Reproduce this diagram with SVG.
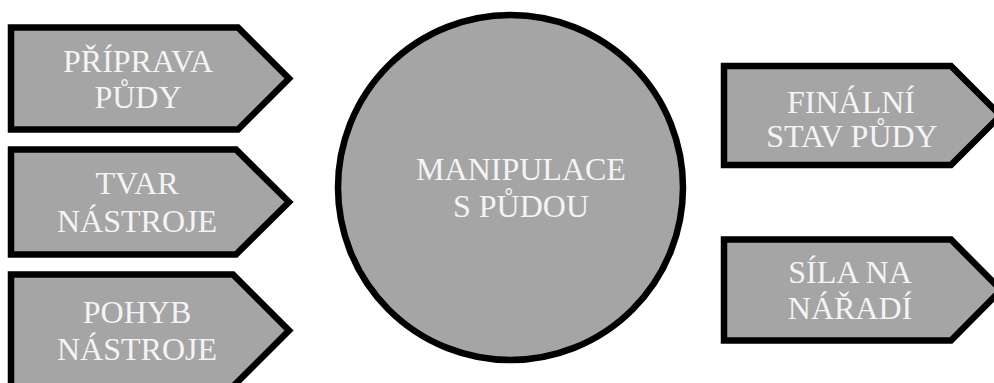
<svg xmlns="http://www.w3.org/2000/svg" width="994" height="383" viewBox="0 0 994 383">
<style>
.shape{fill:#a5a5a5;stroke:#000;stroke-width:6.5;stroke-linejoin:miter}
.lbl{fill:#f4f4f4;font-family:"Liberation Serif","Times New Roman",serif;font-size:32px;text-anchor:middle}
</style>
<rect width="994" height="383" fill="#fff"/>
<g id="connectors"></g>
<g id="node-priprava">
<path class="shape" d="M11,27.5 L238,27.5 L289,78.5 L238,129.5 L11,129.5 Z"/>
<text class="lbl" x="138" y="72">PŘÍPRAVA</text>
<text class="lbl" x="138" y="108">PŮDY</text>
</g>
<g id="node-tvar">
<path class="shape" d="M11,149.5 L236,149.5 L289,202 L236,254.5 L11,254.5 Z"/>
<text class="lbl" x="137" y="194">TVAR</text>
<text class="lbl" x="137" y="232">NÁSTROJE</text>
</g>
<g id="node-pohyb">
<path class="shape" d="M11,274.5 L233,274.5 L289,330.5 L233,386.5 L11,386.5 Z"/>
<text class="lbl" x="137" y="323">POHYB</text>
<text class="lbl" x="137" y="360">NÁSTROJE</text>
</g>
<g id="node-manipulace">
<circle class="shape" cx="510.5" cy="187.5" r="172.5"/>
<text class="lbl" x="521" y="180">MANIPULACE</text>
<text class="lbl" x="521" y="217">S PŮDOU</text>
</g>
<g id="node-finalni">
<path class="shape" d="M724,66 L951,66 L1000.5,115.5 L951,165 L724,165 Z"/>
<text class="lbl" x="851" y="113">FINÁLNÍ</text>
<text class="lbl" x="852" y="147">STAV PŮDY</text>
</g>
<g id="node-sila">
<path class="shape" d="M724,239.5 L951,239.5 L1001,290 L951,340.5 L724,340.5 Z"/>
<text class="lbl" x="850" y="283">SÍLA NA</text>
<text class="lbl" x="850" y="319">NÁŘADÍ</text>
</g>
</svg>
